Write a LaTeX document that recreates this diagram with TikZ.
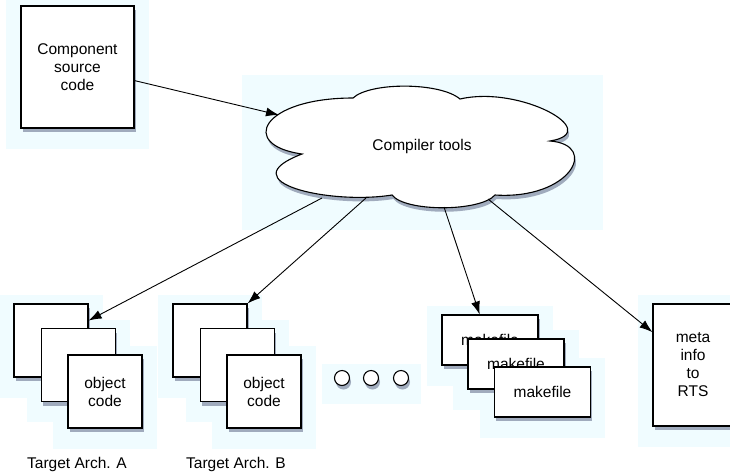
\documentclass[tikz,border=0pt]{standalone}
\usepackage{fontspec}
\setmainfont{Liberation Sans}
\usetikzlibrary{shadows, arrows.meta, backgrounds, calc}
\definecolor{haloblue}{RGB}{240,252,255}
\definecolor{shadowgrey}{RGB}{40,50,90}

\begin{document}
\begin{tikzpicture}[x=1pt, y=-1pt,
		every node/.style={font=\fontsize{15.5}{18}\selectfont},
		shade/.style={drop shadow={shadow xshift=1.5pt, shadow yshift=-4pt, fill=shadowgrey, opacity=0.4}},
		box/.style={draw, fill=white, line width=1.1pt, align=center, inner sep=0pt, shade},
		objbox/.style={box, minimum width=74pt, minimum height=73pt},
		mkbox/.style={box, minimum width=96pt, minimum height=50pt},
		dot/.style={box, circle, minimum size=15pt},
		arr/.style={-{Latex[length=13pt, width=9pt]}, line width=0.9pt},
		halo/.style={fill=haloblue}]
			\useasboundingbox (0,0) rectangle (730,475);

			\node[box, minimum width=113pt, minimum height=122pt, text depth=-6pt] (src) at (77.5,67) {Component\\source\\code};

			% the cloud, lobe by lobe
			\begin{scope}[line width=1.1pt]
				\draw[fill=white, shade] (302,154)
					.. controls (238,145) and (262,98) .. (353,98)
					.. controls (370,82) and (440,82) .. (460,99)
					.. controls (520,85) and (605,132) .. (550,141)
					.. controls (600,145) and (570,200) .. (495,195)
					.. controls (480,212) and (405,212) .. (392,195)
					.. controls (330,205) and (228,182) .. cycle;
			\end{scope}
			\node (tools) at (422,146) {Compiler tools};
			\coordinate (toolsIn) at (279,115);
			\coordinate (toolsA) at (322,198);
			\coordinate (toolsB) at (366,198);
			\coordinate (toolsM) at (444,207);
			\coordinate (toolsR) at (488,199);

			% object code stacks
			\foreach \s/\x in {a/51, b/210} {
				\node[objbox] (\s1) at (\x,340.5) {};
				\node[objbox] (\s2) at (\x+27.5,365) {};
				\node[objbox] (\s3) at (\x+54,391.5) {object\\code};
			}
			\node (labA) at (77,464) {Target Arch. A};
			\node (labB) at (236,464) {Target Arch. B};

			\node[dot] (d1) at (342,378) {};
			\node[dot] (d2) at (371,378) {};
			\node[dot] (d3) at (401,378) {};

			\node[mkbox] (m1) at (490,340) {makefile};
			\node[mkbox] (m2) at (516,364) {makefile};
			\node[mkbox] (m3) at (542.5,392) {makefile};

			\node[box, minimum width=80pt, minimum height=122pt] (meta) at (693,365) {meta\\info\\to\\RTS};

			\draw[arr] (src) -- (toolsIn);
			\draw[arr] (toolsA) -- (a1.28);
			\draw[arr] (toolsB) -- (b1.north east);
			\draw[arr] (toolsM) -- (m1.112);
			\draw[arr] (toolsR) -- (meta.141);

			\begin{scope}[on background layer]
				\foreach \n in {src, a1, a2, a3, b1, b2, b3, m1, m2, m3, meta, d1, d2, d3}
					\fill[halo] ($(\n.north west)+(-14,-8)$) rectangle ($(\n.south east)+(14,20)$);
				\fill[halo] (242,75) rectangle (603,230);
			\end{scope}
		\end{tikzpicture}
\end{document}
